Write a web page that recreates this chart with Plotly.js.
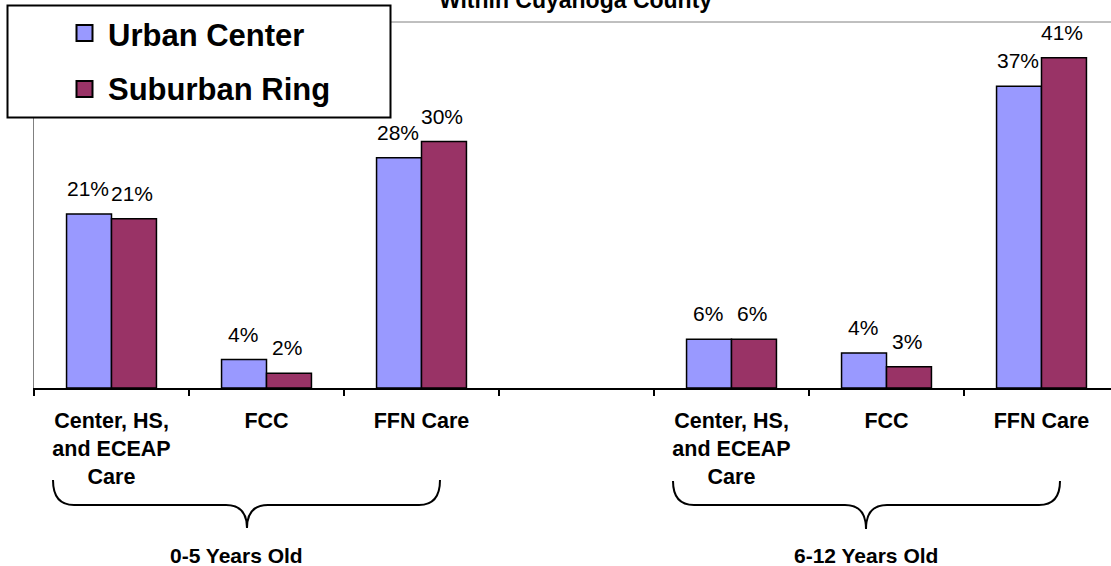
<!DOCTYPE html>
<html>
<head>
<meta charset="utf-8">
<script src="https://cdn.plot.ly/plotly-3.0.1.min.js"></script>
<style>
  html, body { margin: 0; padding: 0; background: #ffffff; }
  #chart { width: 1111px; height: 566px; }
</style>
</head>
<body>
<div id="chart"></div>
<script>
// ---- data ----
var chartTitle = 'Within Cuyahoga County';
var ageGroups = ['0-5 Years Old', '6-12 Years Old'];
var careTypes = ['Center, HS,<br>and ECEAP<br>Care', 'FCC', 'FFN Care'];
var seriesNames = ['Urban Center', 'Suburban Ring'];
var urbanCenter = [21.4, 3.5, 28.3, 6.0, 4.3, 37.1];   // %
var suburbanRing = [20.8, 1.8, 30.3, 6.0, 2.6, 40.6];  // %
var seriesColors = ['#9999FF', '#993366'];

// ---- layout constants (pixels) ----
var W = 1111, H = 566;
var M = {l: 34, r: 0, t: 22, b: 178};
var plotW = W - M.l - M.r, plotH = H - M.t - M.b;
function px(x) { return (x - M.l) / plotW; }
function py(y) { return (H - M.b - y) / plotH; }

var FONT = 'Liberation Sans, Arial, Helvetica, sans-serif';

// category keys (unique) with a blank spacer between the two age groups
var keys = [], tickText = [];
ageGroups.forEach(function (g, gi) {
  if (gi > 0) { keys.push('spacer'); tickText.push(''); }
  careTypes.forEach(function (c) {
    keys.push(g + ' | ' + c.replace(/<br>/g, ' '));
    tickText.push(c);
  });
});
var dataKeys = keys.filter(function (k) { return k !== 'spacer'; });

var traces = [urbanCenter, suburbanRing].map(function (vals, i) {
  return {
    type: 'bar',
    name: seriesNames[i],
    x: dataKeys,
    y: vals,
    marker: {color: seriesColors[i], line: {color: '#000000', width: 1.5}},
    showlegend: false,
    hovertemplate: seriesNames[i] + '<br>%{x}: %{y:.0f}%<extra></extra>'
  };
});

// value labels above bars
var annotations = [];
var shifts = [-24, 20];
[urbanCenter, suburbanRing].forEach(function (vals, si) {
  vals.forEach(function (v, i) {
    annotations.push({
      x: dataKeys[i], y: v, xref: 'x', yref: 'y',
      text: Math.round(v) + '%',
      showarrow: false, xanchor: 'center', yanchor: 'bottom',
      xshift: shifts[si], yshift: 12,
      font: {family: FONT, size: 21, color: '#000000'}
    });
  });
});

// age group labels under braces
var groupCenters = [236, 866];
ageGroups.forEach(function (g, gi) {
  annotations.push({
    x: px(groupCenters[gi]), y: py(555), xref: 'paper', yref: 'paper',
    text: g, showarrow: false, xanchor: 'center', yanchor: 'middle',
    font: {family: FONT, size: 21, color: '#000000', weight: 'bold'}
  });
});

// manual legend text
var legendY = [35, 89.5];
seriesNames.forEach(function (n, i) {
  annotations.push({
    x: px(106), y: py(legendY[i]), xref: 'paper', yref: 'paper',
    text: n, showarrow: false, xanchor: 'left', yanchor: 'middle',
    font: {family: FONT, size: 31, color: '#000000', weight: 'bold'}
  });
});

// shapes: top frame line, braces, legend box and swatches
function brace(x0, x1, xm, yTop, yMid, yTip) {
  var r = 21;
  var p = 'M ' + px(x0) + ',' + py(yTop) +
    ' Q ' + px(x0) + ',' + py(yMid) + ' ' + px(x0 + r) + ',' + py(yMid) +
    ' L ' + px(xm - r) + ',' + py(yMid) +
    ' Q ' + px(xm) + ',' + py(yMid) + ' ' + px(xm) + ',' + py(yTip) +
    ' Q ' + px(xm) + ',' + py(yMid) + ' ' + px(xm + r) + ',' + py(yMid) +
    ' L ' + px(x1 - r) + ',' + py(yMid) +
    ' Q ' + px(x1) + ',' + py(yMid) + ' ' + px(x1) + ',' + py(yTop);
  return {type: 'path', xref: 'paper', yref: 'paper', path: p,
          line: {color: '#000000', width: 2}, layer: 'above'};
}

var shapes = [
  {type: 'line', xref: 'paper', yref: 'paper', x0: 0, x1: 1, y0: 1, y1: 1,
   line: {color: '#808080', width: 1}, layer: 'below'},
  brace(53, 440, 247, 480, 505, 528),
  brace(673, 1060, 866, 481, 505, 529),
  {type: 'rect', xref: 'paper', yref: 'paper',
   x0: px(7.5), x1: px(390.5), y0: py(5.5), y1: py(117.5),
   fillcolor: '#ffffff', line: {color: '#000000', width: 2}, layer: 'above'}
];
var swatchTop = [25, 81];
seriesColors.forEach(function (c, i) {
  shapes.push({type: 'rect', xref: 'paper', yref: 'paper',
    x0: px(76.5), x1: px(92.5), y0: py(swatchTop[i]), y1: py(swatchTop[i] + 16),
    fillcolor: c, line: {color: '#000000', width: 2}, layer: 'above'});
});

var layout = {
  width: W, height: H,
  margin: M,
  paper_bgcolor: '#ffffff', plot_bgcolor: '#ffffff',
  font: {family: FONT, color: '#000000'},
  title: {
    text: chartTitle,
    x: 575.5 / W, xref: 'container', xanchor: 'center',
    y: 1 - 7.5 / H, yref: 'container', yanchor: 'bottom',
    font: {family: FONT, size: 23, color: '#000000', weight: 'bold'}
  },
  barmode: 'group',
  bargap: 0.42,
  bargroupgap: 0,
  showlegend: false,
  xaxis: {
    type: 'category',
    categoryorder: 'array', categoryarray: keys,
    tickmode: 'array', tickvals: keys, ticktext: tickText,
    tickson: 'boundaries',
    range: [-0.5, -0.5 + plotW / 155],
    ticks: 'outside', ticklen: 6, tickwidth: 2, tickcolor: '#000000',
    showline: true, linecolor: '#000000', linewidth: 2,
    showgrid: false, zeroline: false,
    ticklabelstandoff: 12,
    tickfont: {family: FONT, size: 21.5, color: '#000000', weight: 'bold'},
    fixedrange: true
  },
  yaxis: {
    range: [0, 45],
    showline: true, linecolor: '#808080', linewidth: 1,
    showgrid: false, zeroline: false, showticklabels: false, ticks: '',
    fixedrange: true
  },
  annotations: annotations,
  shapes: shapes
};

Plotly.newPlot('chart', traces, layout, {displayModeBar: false, staticPlot: true});
</script>
</body>
</html>
